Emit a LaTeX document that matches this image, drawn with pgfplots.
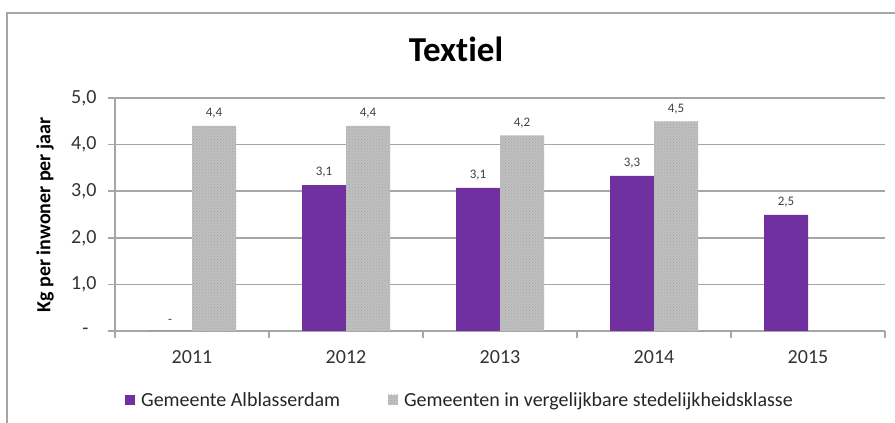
\documentclass[border=0pt]{standalone}
\usepackage{fontspec}
\setmainfont{Carlito}[Ligatures=NoCommon]
\usepackage{pgfplots}
\pgfplotsset{compat=1.18}
\usetikzlibrary{patterns}
\definecolor{paars}{HTML}{7030A0}
\definecolor{grijs}{HTML}{C0C0C0}
\definecolor{rooster}{HTML}{A6A6A6}
\definecolor{tekst}{HTML}{404040}
\begin{document}
\begin{tikzpicture}[x=1pt,y=1pt]
\useasboundingbox (0,0) rectangle (895,423);
% rand van de grafiek
\draw[rooster, line width=2pt] (6.5,0) -- (6.5,410) -- (895,410);
\node[font=\bfseries\fontsize{35}{40}\selectfont, anchor=base] at (456,361) {Textiel};
\node[font=\bfseries\fontsize{20}{24}\selectfont, rotate=90] at (45,208) {Kg per inwoner per jaar};
\begin{axis}[
  at={(115pt,92pt)}, anchor=south west,
  scale only axis, width=770pt, height=233pt,
  xmin=-0.5, xmax=4.5, ymin=0, ymax=5,
  axis lines*=left,
  ybar=0pt, bar width=44pt,
  ytick={0,1,2,3,4,5},
  yticklabels={{-\hspace*{8pt}},{1,0},{2,0},{3,0},{4,0},{5,0}},
  xtick={0,1,2,3,4},
  xticklabels={2011,2012,2013,2014,2015},
  minor xtick={-0.5,0.5,1.5,2.5,3.5,4.5},
  major x tick style={draw=none},
  tick align=outside, major tick length=7pt, minor tick length=7pt,
  ymajorgrids, grid style={rooster, line width=1.5pt},
  axis line style={rooster, line width=1.5pt},
  tick style={rooster, line width=1.5pt},
  /pgf/number format/assume math mode=true,
  ticklabel style={font=\fontsize{20}{24}\selectfont, text=black!80},
  yticklabel style={xshift=-8pt},
  xticklabel style={yshift=-9pt},
  nodes near coords, point meta=explicit symbolic,
  every node near coord/.append style={font=\fontsize{13}{15}\selectfont, text=tekst, yshift=4pt},
  legend columns=2,
  legend style={at={(axis description cs:0.009,-0.296)}, anchor=west,
    draw=none, fill=none, font=\fontsize{20}{24}\selectfont, text=black!85,
    /tikz/every even column/.append style={column sep=46pt}},
  legend image code/.code={\fill[#1] (0pt,-5pt) rectangle (10pt,5pt); \path (14pt,0pt);},
]
\addplot[fill=paars, draw=none] coordinates {
  (0,0) [-] (1,3.13) [3,1] (2,3.07) [3,1] (3,3.33) [3,3] (4,2.49) [2,5]
};
\addlegendentry{Gemeente Alblasserdam}
\addplot[fill=grijs, draw=none, postaction={pattern=crosshatch dots, pattern color=black!35}] coordinates {
  (0,4.4) [4,4] (1,4.4) [4,4] (2,4.2) [4,2] (3,4.5) [4,5]
};
\addlegendentry{Gemeenten in vergelijkbare stedelijkheidsklasse}
\end{axis}
\end{tikzpicture}
\end{document}
